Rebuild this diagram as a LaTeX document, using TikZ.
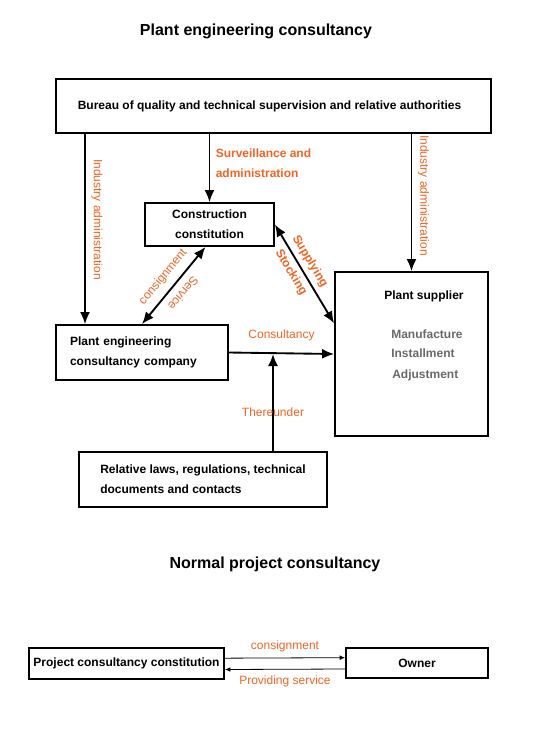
\documentclass[tikz,border=0pt]{standalone}
\usepackage{fontspec}
\setmainfont{Liberation Sans}
\usetikzlibrary{arrows.meta}
\definecolor{lbl}{RGB}{240,100,35}
\definecolor{grau}{RGB}{105,105,105}
\tikzset{
  box/.style={draw,line width=1.4pt,inner sep=0pt},
  arr/.style={-{Latex[length=9pt,width=7.5pt]},line width=1.4pt},
  darr/.style={{Latex[length=9pt,width=7.5pt]}-{Latex[length=9pt,width=7.5pt]},line width=1.4pt},
  thin arr/.style={-{Latex[length=4pt,width=3.5pt]},line width=.6pt},
  lab/.style={text=lbl,font=\fontsize{9}{15}\selectfont},
  blab/.style={text=lbl,font=\fontsize{9}{15}\selectfont\bfseries},
  txt/.style={font=\fontsize{9}{15}\selectfont\bfseries},
  titel/.style={font=\fontsize{12}{14}\selectfont\bfseries}
}
\begin{document}
\begin{tikzpicture}[x=.75pt,y=.75pt]
\useasboundingbox (0,0) rectangle (532,-739);
% Titel
\node[titel] (t1) at (256,-31) {Plant engineering consultancy};
\node[titel] (t2) at (275,-564) {Normal project consultancy};
% Kaesten
\node[box,txt,minimum width=326.25pt,minimum height=40.5pt] (bur) at (273.5,-106)
  {\hspace*{-6pt}\raisebox{1.5pt}{Bureau of quality and technical supervision and relative authorities}};
\node[box,txt,minimum width=96.75pt,minimum height=32.25pt,align=center] (con) at (209.5,-224.5)
  {Construction\\constitution};
\node[box,txt,minimum width=129pt,minimum height=41.25pt,text width=108pt,align=left] (pec) at (142,-352.5)
  {Plant engineering\\consultancy company};
\node[box,minimum width=114.75pt,minimum height=123pt] (sup) at (411.5,-354) {};
\node[box,txt,minimum width=186pt,minimum height=41.25pt,align=left] (law) at (203,-479.5)
  {Relative laws, regulations, technical\\documents and contacts};
\node[box,txt,minimum width=146.25pt,minimum height=23.25pt] (pcc) at (126.5,-663.5)
  {Project consultancy constitution};
\node[box,txt,minimum width=106.5pt,minimum height=22.5pt] (own) at (417,-663) {Owner};
% Texte im Lieferanten-Kasten
\node[txt,anchor=west,inner sep=0pt] (sname) at (384,-296) {Plant supplier};
\node[txt,text=grau,anchor=west,inner sep=0pt] (man) at (391,-334) {Manufacture};
\node[txt,text=grau,anchor=west,inner sep=0pt] (ins) at (391,-353) {Installment};
\node[txt,text=grau,anchor=west,inner sep=0pt] (adj) at (392,-375) {Adjustment};
% Hilfskoordinaten
\coordinate (la) at (85,0);
\coordinate (th) at (273,0);
% Pfeile
\draw[arr] (la |- bur.south) -- (la |- pec.north)
  node[lab,pos=.45,rotate=-90,anchor=south,inner sep=4pt] {Industry administration};
\draw[arr] (sup.north |- bur.south) -- (sup.north)
  node[lab,pos=.45,rotate=-90,anchor=south,inner sep=4pt] {Industry administration};
\draw[arr] (con.north |- bur.south) -- (con.north)
  node[blab,pos=.43,anchor=west,align=left,inner sep=4pt] {Surveillance and\\administration};
\draw[darr] ([xshift=-3pt]con.south) -- (pec.north)
  node[lab,midway,sloped,above=2pt] {consignment}
  node[lab,midway,sloped,allow upside down,above=2pt] {Service};
\draw[darr] (con.east) -- ([yshift=23pt]sup.west)
  node[blab,pos=.43,sloped,above=0pt] {Supplying}
  node[blab,pos=.43,sloped,below=0pt] {Stocking};
\draw[arr] (pec.east) -- (sup.west)
  node[lab,midway,above=5pt] {Consultancy};
\draw[arr] (th |- law.north) -- (th |- sup.west)
  node[lab,pos=.4] {Thereunder};
\draw[thin arr] ([yshift=4pt]pcc.east) -- ([yshift=4pt]own.west)
  node[lab,midway,above=1pt] {consignment};
\draw[thin arr] ([yshift=-4.5pt]own.west) -- ([yshift=-4.5pt]pcc.east)
  node[lab,midway,below=1pt] {Providing service};
\end{tikzpicture}
\end{document}
